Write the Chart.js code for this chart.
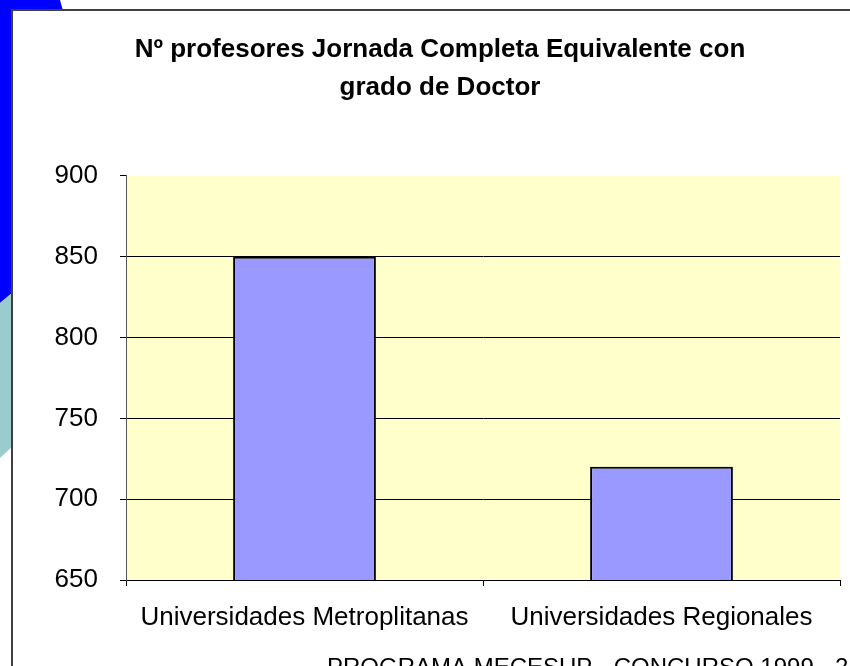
<!DOCTYPE html>
<html>
<head>
<meta charset="utf-8">
<script src="https://cdn.jsdelivr.net/npm/chart.js@4/dist/chart.umd.min.js"></script>
<style>
  html, body { margin: 0; padding: 0; background: #fff; }
  #wrap { position: relative; width: 850px; height: 666px; overflow: hidden; }
</style>
</head>
<body>
<div id="wrap"><canvas id="chart" width="850" height="666"></canvas></div>
<script>
// Datos del gráfico
const categorias = ['Universidades Metroplitanas', 'Universidades Regionales'];
const valores = [850, 720];
const titulo = ['Nº profesores Jornada Completa Equivalente con', 'grado de Doctor'];
const pie = 'PROGRAMA MECESUP - CONCURSO 1999 - 2';
const ejeMin = 650, ejeMax = 900, paso = 50;

// Fondo de la diapositiva, área amarilla y texto del pie
const decoracion = {
    id: 'decoracion',
    beforeDraw(chart) {
        const ctx = chart.ctx;
        const a = chart.chartArea;
        ctx.save();
        // franja azul de la plantilla
        ctx.fillStyle = '#0000ff';
        ctx.beginPath();
        ctx.moveTo(0, 0); ctx.lineTo(60, 0); ctx.lineTo(63, 11);
        ctx.lineTo(12, 11); ctx.lineTo(12, 293); ctx.lineTo(0, 303);
        ctx.closePath(); ctx.fill();
        // franja turquesa
        ctx.fillStyle = '#99cccc';
        ctx.beginPath();
        ctx.moveTo(0, 303); ctx.lineTo(12, 293); ctx.lineTo(12, 447); ctx.lineTo(0, 458);
        ctx.closePath(); ctx.fill();
        // marco
        ctx.strokeStyle = '#404040';
        ctx.lineWidth = 2;
        ctx.beginPath();
        ctx.moveTo(850, 10); ctx.lineTo(12, 10); ctx.lineTo(12, 666);
        ctx.stroke();
        // área de trazado
        ctx.fillStyle = '#ffffcc';
        ctx.fillRect(a.left, a.top, a.right - a.left, a.bottom - a.top);
        ctx.restore();
    },
    afterDraw(chart) {
        const ctx = chart.ctx;
        ctx.save();
        ctx.fillStyle = '#000';
        ctx.font = '24px Arial, "Liberation Sans", sans-serif';
        ctx.textAlign = 'left';
        ctx.textBaseline = 'alphabetic';
        ctx.fillText(pie, 327, 675);
        ctx.restore();
    }
};

const ctx = document.getElementById('chart').getContext('2d');
new Chart(ctx, {
    type: 'bar',
    data: {
        labels: categorias,
        datasets: [{
            data: valores,
            backgroundColor: '#9999ff',
            borderColor: '#000',
            borderWidth: 2,
            barPercentage: 0.4,
            categoryPercentage: 1
        }]
    },
    options: {
        responsive: false,
        animation: false,
        layout: { padding: { left: 40, right: 10, top: 0, bottom: 0 } },
        plugins: {
            legend: { display: false },
            tooltip: { enabled: false },
            title: {
                display: true,
                text: titulo,
                color: '#000',
                font: { family: 'Arial, "Liberation Sans", sans-serif', size: 26, weight: 'bold', lineHeight: 1.46 },
                padding: { top: 31, bottom: 69 }
            }
        },
        scales: {
            x: {
                afterFit(scale) { scale.height = 86; },
                grid: { display: true, drawOnChartArea: false, drawTicks: true, tickLength: 6, color: '#000', offset: true },
                border: { color: '#000', width: 1 },
                ticks: { color: '#000', padding: 16, font: { family: 'Arial, "Liberation Sans", sans-serif', size: 26 } }
            },
            y: {
                min: ejeMin,
                max: ejeMax,
                afterFit(scale) { scale.width = 86; },
                grid: {
                    color: c => (c.tick && c.tick.value === ejeMax) ? 'rgba(0,0,0,0)' : '#000',
                    tickColor: '#000',
                    tickLength: 6,
                    lineWidth: 1
                },
                border: { color: '#555', width: 1 },
                ticks: { stepSize: paso, color: '#000', padding: 22, font: { family: 'Arial, "Liberation Sans", sans-serif', size: 26 } }
            }
        }
    },
    plugins: [decoracion]
});
</script>
</body>
</html>
